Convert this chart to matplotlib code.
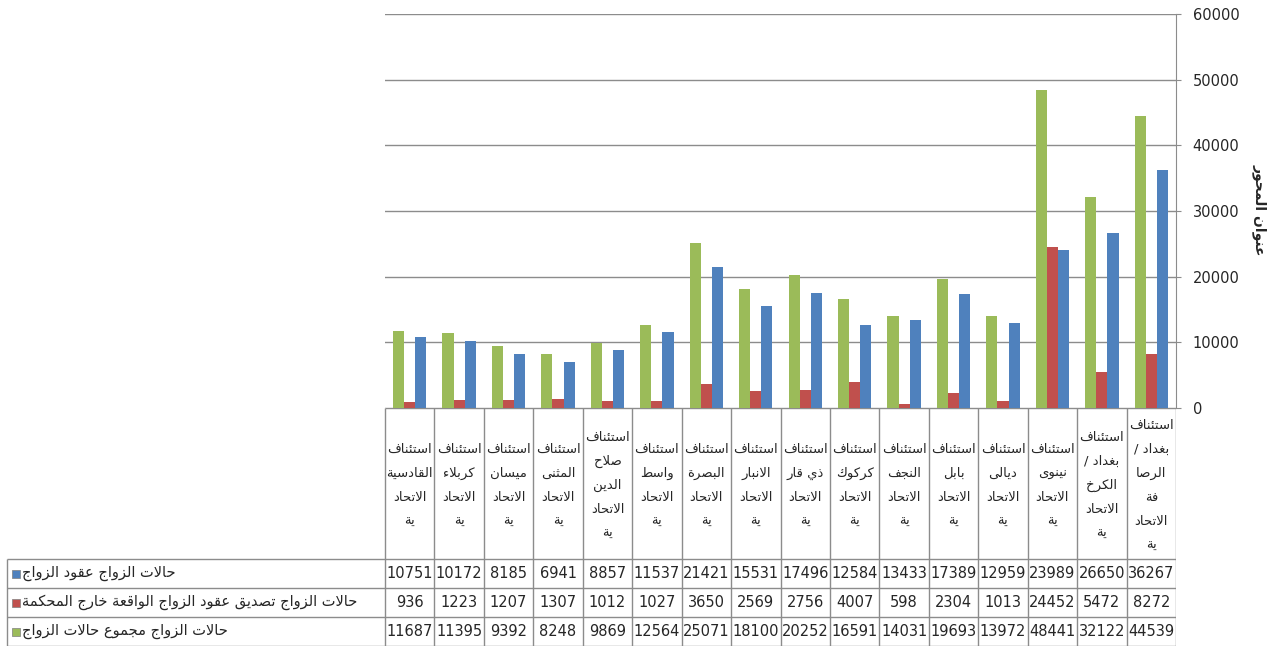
import numpy as np
import matplotlib
matplotlib.use("Agg")
import matplotlib.pyplot as plt

# ---- data (categories listed left to right as in the picture) ----
courts = ["القادسية", "كربلاء", "ميسان", "المثنى", "صلاح الدين", "واسط", "البصرة",
          "الانبار", "ذي قار", "كركوك", "النجف", "بابل", "ديالى", "نينوى",
          "بغداد / الكرخ", "بغداد / الرصافة"]
# cell text as wrapped in the original table
header_lines = [
    ["استئناف", "القادسية", "الاتحاد", "ية"],
    ["استئناف", "كربلاء", "الاتحاد", "ية"],
    ["استئناف", "ميسان", "الاتحاد", "ية"],
    ["استئناف", "المثنى", "الاتحاد", "ية"],
    ["استئناف", "صلاح", "الدين", "الاتحاد", "ية"],
    ["استئناف", "واسط", "الاتحاد", "ية"],
    ["استئناف", "البصرة", "الاتحاد", "ية"],
    ["استئناف", "الانبار", "الاتحاد", "ية"],
    ["استئناف", "ذي قار", "الاتحاد", "ية"],
    ["استئناف", "كركوك", "الاتحاد", "ية"],
    ["استئناف", "النجف", "الاتحاد", "ية"],
    ["استئناف", "بابل", "الاتحاد", "ية"],
    ["استئناف", "ديالى", "الاتحاد", "ية"],
    ["استئناف", "نينوى", "الاتحاد", "ية"],
    ["استئناف", "بغداد /", "الكرخ", "الاتحاد", "ية"],
    ["استئناف", "بغداد /", "الرصا", "فة", "الاتحاد", "ية"],
]

contracts = [10751, 10172, 8185, 6941, 8857, 11537, 21421, 15531, 17496, 12584,
             13433, 17389, 12959, 23989, 26650, 36267]
ratified = [936, 1223, 1207, 1307, 1012, 1027, 3650, 2569, 2756, 4007,
            598, 2304, 1013, 24452, 5472, 8272]
totals = [11687, 11395, 9392, 8248, 9869, 12564, 25071, 18100, 20252, 16591,
          14031, 19693, 13972, 48441, 32122, 44539]

series_names = ["حالات الزواج عقود الزواج",
                "حالات الزواج تصديق عقود الزواج الواقعة خارج المحكمة",
                "حالات الزواج مجموع حالات الزواج"]
series_values = [contracts, ratified, totals]
series_colors = ["#4F81BD", "#C0504D", "#9BBB59"]
y_ticks = [0, 10000, 20000, 30000, 40000, 50000, 60000]
axis_title = "عنوان المحور"

# ---- minimal arabic shaping (matplotlib has no bidi / joining) ----
FORMS = {
    'ء': 'ﺀ', 'آ': 'ﺁﺂ', 'أ': 'ﺃﺄ', 'ؤ': 'ﺅﺆ', 'إ': 'ﺇﺈ', 'ئ': 'ﺉﺊﺋﺌ',
    'ا': 'ﺍﺎ', 'ب': 'ﺏﺐﺑﺒ', 'ة': 'ﺓﺔ', 'ت': 'ﺕﺖﺗﺘ', 'ث': 'ﺙﺚﺛﺜ',
    'ج': 'ﺝﺞﺟﺠ', 'ح': 'ﺡﺢﺣﺤ', 'خ': 'ﺥﺦﺧﺨ', 'د': 'ﺩﺪ', 'ذ': 'ﺫﺬ',
    'ر': 'ﺭﺮ', 'ز': 'ﺯﺰ', 'س': 'ﺱﺲﺳﺴ', 'ش': 'ﺵﺶﺷﺸ', 'ص': 'ﺹﺺﺻﺼ',
    'ض': 'ﺽﺾﺿﻀ', 'ط': 'ﻁﻂﻃﻄ', 'ظ': 'ﻅﻆﻇﻈ', 'ع': 'ﻉﻊﻋﻌ', 'غ': 'ﻍﻎﻏﻐ',
    'ف': 'ﻑﻒﻓﻔ', 'ق': 'ﻕﻖﻗﻘ', 'ك': 'ﻙﻚﻛﻜ', 'ل': 'ﻝﻞﻟﻠ', 'م': 'ﻡﻢﻣﻤ',
    'ن': 'ﻥﻦﻧﻨ', 'ه': 'ﻩﻪﻫﻬ', 'و': 'ﻭﻮ', 'ى': 'ﻯﻰ', 'ي': 'ﻱﻲﻳﻴ',
}
LAM_ALEF = {'ا': 'ﻻﻼ', 'أ': 'ﻷﻸ', 'إ': 'ﻹﻺ', 'آ': 'ﻵﻶ'}


def shape(line):
    toks = []
    i = 0
    while i < len(line):
        c = line[i]
        if c == 'ل' and i + 1 < len(line) and line[i + 1] in LAM_ALEF:
            toks.append(('LA', line[i + 1]))
            i += 2
        else:
            toks.append((c, None))
            i += 1

    def dual(t):
        return t[0] in FORMS and len(FORMS[t[0]]) == 4

    def joins_back(t):
        return t[0] == 'LA' or (t[0] in FORMS and len(FORMS[t[0]]) >= 2)

    out = []
    for j, t in enumerate(toks):
        prev = j > 0 and dual(toks[j - 1])
        if t[0] == 'LA':
            out.append(LAM_ALEF[t[1]][1 if prev else 0])
            continue
        if t[0] not in FORMS:
            out.append(t[0])
            continue
        f = FORMS[t[0]]
        nxt = dual(t) and j + 1 < len(toks) and joins_back(toks[j + 1])
        if len(f) == 1:
            out.append(f[0])
        elif prev and nxt:
            out.append(f[3])
        elif nxt:
            out.append(f[2])
        elif prev:
            out.append(f[1])
        else:
            out.append(f[0])
    return ''.join(out)[::-1]


# ---- layout (pixels of a 1274x649 canvas) ----
W, H = 1274, 649
plot_l, plot_r, plot_t, plot_b = 385, 1176, 14, 408
tab_l, tab_b = 6, 646
head_h, row_h = 151, 29
grid_col = "#8C8C8C"
txt_col = "#262626"

fig = plt.figure(figsize=(W / 100, H / 100), dpi=100)
ax = fig.add_axes([plot_l / W, 1 - plot_b / H, (plot_r - plot_l) / W, (plot_b - plot_t) / H])

n = len(courts)
x = np.arange(n)
bw = 0.225
order = [2, 1, 0]  # green, red, blue from left to right inside a group
for k, s in enumerate(order):
    ax.bar(x + (k - 1) * bw, series_values[s], width=bw, color=series_colors[s],
           label=series_names[s], zorder=3)

ax.set_xlim(-0.5, n - 0.5)
ax.set_ylim(0, 60000)
ax.set_yticks(y_ticks)
ax.set_yticklabels([str(v) for v in y_ticks])
ax.yaxis.tick_right()
ax.tick_params(axis='y', length=3.6, color=grid_col, pad=8.5, labelsize=10.5, labelcolor=txt_col)
for lab in ax.get_yticklabels():
    lab.set_horizontalalignment('left')
ax.set_xticks([])
ax.grid(axis='y', color=grid_col, linewidth=1, zorder=0)
for side in ['left', 'top', 'bottom']:
    ax.spines[side].set_visible(False)
ax.spines['right'].set_color(grid_col)

fig.text(1260 / W, 1 - 210 / H, shape(axis_title), rotation=270, ha='center', va='center',
         fontsize=10, fontweight='bold', color=txt_col)

# ---- data table under the plot ----
cw = (plot_r - plot_l) / n
tax = fig.add_axes([tab_l / W, 1 - tab_b / H, (plot_r - tab_l) / W, (tab_b - plot_b) / H])
x0 = -0.5 - (plot_l - tab_l) / cw
tax.set_xlim(x0, n - 0.5)
tax.set_ylim(head_h + 3 * row_h, 0)
tax.axis('off')

lk = dict(color=grid_col, linewidth=1, solid_capstyle='butt')
for b in np.arange(n + 1) - 0.5:
    tax.plot([b, b], [0, head_h + 3 * row_h], **lk)
tax.plot([-0.5, n - 0.5], [0, 0], **lk)
for r in range(4):
    yy = head_h + r * row_h
    tax.plot([x0 + 0.02, n - 0.5], [yy, yy], **lk)
tax.plot([x0 + 0.02, x0 + 0.02], [head_h, head_h + 3 * row_h], **lk)

for i, lines in enumerate(header_lines):
    tax.text(i, head_h / 2 + 2, "\n".join(shape(l) for l in lines), ha='center', va='center',
             fontsize=9.5, linespacing=2.1, color=txt_col)

for r, s in enumerate(range(3)):
    yc = head_h + (r + 0.5) * row_h
    for i, v in enumerate(series_values[s]):
        tax.text(i, yc, str(v), ha='center', va='center', fontsize=10.5, color=txt_col)
    tax.scatter([x0 + 0.2], [yc], marker='s', s=30, color=series_colors[s],
                edgecolors='#7F7F7F', linewidths=0.5, zorder=4)
    tax.text(x0 + 0.33, yc, shape(series_names[s]), ha='left', va='center',
             fontsize=10.5, color=txt_col)

fig.savefig("out.png", dpi=100)
